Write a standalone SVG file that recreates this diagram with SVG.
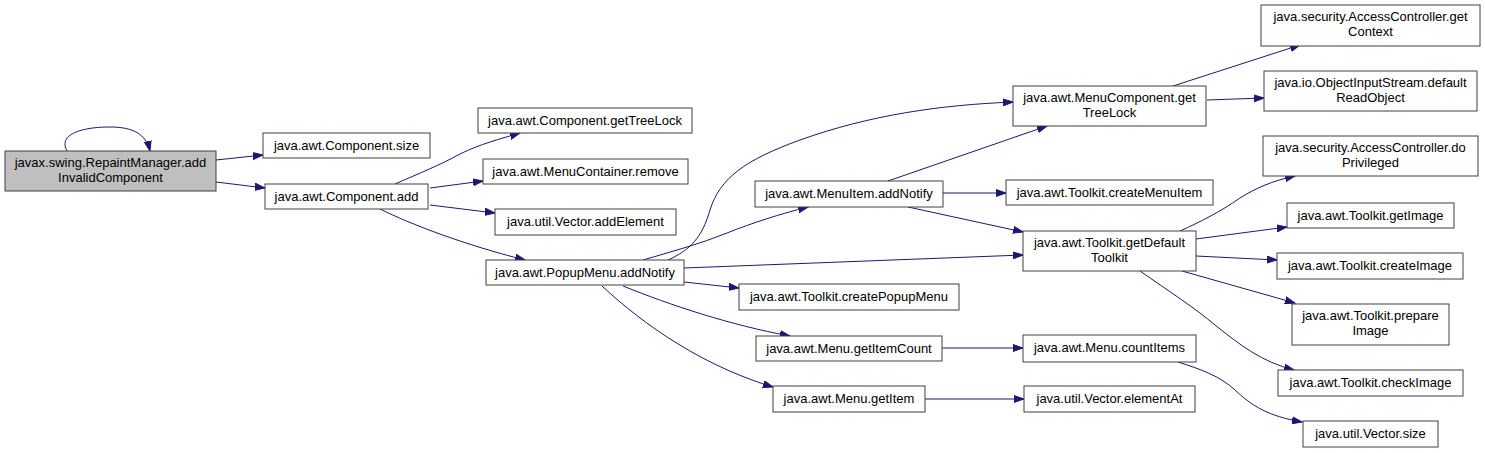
<svg xmlns="http://www.w3.org/2000/svg" width="1485" height="453" viewBox="0 0 1485 453">
<style>
.n rect{fill:#fff;stroke:#404040;stroke-width:1}
.n text{font-family:"Liberation Sans",Arial,sans-serif;font-size:13px;fill:#000;text-anchor:middle}
#edges path{fill:none;stroke:#191970;stroke-width:1;marker-end:url(#ah)}
</style>
<defs>
<marker id="ah" markerUnits="userSpaceOnUse" markerWidth="11" markerHeight="8" refX="10" refY="4" orient="auto">
<path d="M0,0.5 L10,4 L0,7.5 z" fill="#191970" stroke="#191970" stroke-width="1"/>
</marker>
</defs>
<rect width="1485" height="453" fill="#fff"/>
<g id="edges">
<path d="M67,151 C58,135 80,127 110,127 C133,127 146,134 150,151"/>
<path d="M216,160 L263,155"/>
<path d="M216,182 L265,188"/>
<path d="M395,184 C420,173 440,165 460,154 C480,144 500,139 520,133"/>
<path d="M430,188 L483,181"/>
<path d="M430,205 L495,213"/>
<path d="M380,209 C410,224 465,245 525,260"/>
<path d="M668,260 C690,250 702,238 710,210 C720,178 745,160 800,140 C870,115 940,105 1013,102"/>
<path d="M643,260 C670,252 700,244 727,233 C752,223 780,214 808,207"/>
<path d="M684,268 L1023,255"/>
<path d="M684,282 L739,288"/>
<path d="M623,286 C670,305 730,325 790,336"/>
<path d="M602,286 C630,312 690,362 773,387"/>
<path d="M888,181 L1047,126"/>
<path d="M943,193 L1006,193"/>
<path d="M908,207 L1023,232"/>
<path d="M1173,86 L1300,45"/>
<path d="M1207,100 L1264,98"/>
<path d="M1180,231 C1200,222 1220,212 1240,198 C1256,188 1272,181 1295,176"/>
<path d="M1196,239 L1287,227"/>
<path d="M1196,256 L1277,260"/>
<path d="M1182,271 L1295,303"/>
<path d="M1140,271 C1170,292 1195,308 1215,325 C1240,345 1262,362 1294,370"/>
<path d="M942,348 L1023,348"/>
<path d="M925,399 L1024,399"/>
<path d="M1178,362 C1200,369 1220,376 1235,390 C1252,406 1268,416 1302,422"/>
</g>
<g id="n0" class="n"><rect x="5" y="151" width="211" height="40" style="fill:#bfbfbf"/><text x="110.5" y="167">javax.swing.RepaintManager.add</text><text x="110.5" y="182">InvalidComponent</text></g>
<g id="n1" class="n"><rect x="263" y="133" width="167" height="25"/><text x="346.5" y="150">java.awt.Component.size</text></g>
<g id="n2" class="n"><rect x="265" y="184" width="163" height="25"/><text x="346.5" y="201">java.awt.Component.add</text></g>
<g id="n3" class="n"><rect x="478" y="108" width="214" height="25"/><text x="585" y="125">java.awt.Component.getTreeLock</text></g>
<g id="n4" class="n"><rect x="483" y="159" width="205" height="25"/><text x="585.5" y="176">java.awt.MenuContainer.remove</text></g>
<g id="n5" class="n"><rect x="495" y="209" width="181" height="26"/><text x="585.5" y="226">java.util.Vector.addElement</text></g>
<g id="n6" class="n"><rect x="486" y="260" width="198" height="25"/><text x="585" y="277">java.awt.PopupMenu.addNotify</text></g>
<g id="n7" class="n"><rect x="755" y="181" width="188" height="26"/><text x="849" y="198">java.awt.MenuItem.addNotify</text></g>
<g id="n8" class="n"><rect x="739" y="284" width="220" height="26"/><text x="849" y="301">java.awt.Toolkit.createPopupMenu</text></g>
<g id="n9" class="n"><rect x="756" y="336" width="186" height="25"/><text x="849" y="353">java.awt.Menu.getItemCount</text></g>
<g id="n10" class="n"><rect x="773" y="386" width="152" height="26"/><text x="849" y="403">java.awt.Menu.getItem</text></g>
<g id="n11" class="n"><rect x="1013" y="86" width="193" height="40"/><text x="1109.5" y="102">java.awt.MenuComponent.get</text><text x="1109.5" y="117">TreeLock</text></g>
<g id="n12" class="n"><rect x="1006" y="180" width="207" height="25"/><text x="1109.5" y="197">java.awt.Toolkit.createMenuItem</text></g>
<g id="n13" class="n"><rect x="1023" y="231" width="173" height="40"/><text x="1109.5" y="247">java.awt.Toolkit.getDefault</text><text x="1109.5" y="262">Toolkit</text></g>
<g id="n14" class="n"><rect x="1023" y="335" width="173" height="27"/><text x="1109.5" y="352">java.awt.Menu.countItems</text></g>
<g id="n15" class="n"><rect x="1024" y="386" width="171" height="26"/><text x="1109.5" y="403">java.util.Vector.elementAt</text></g>
<g id="n16" class="n"><rect x="1261" y="5" width="219" height="41"/><text x="1370.5" y="21">java.security.AccessController.get</text><text x="1370.5" y="36">Context</text></g>
<g id="n17" class="n"><rect x="1264" y="71" width="213" height="40"/><text x="1370.5" y="87">java.io.ObjectInputStream.default</text><text x="1370.5" y="102">ReadObject</text></g>
<g id="n18" class="n"><rect x="1263" y="136" width="215" height="40"/><text x="1370.5" y="152">java.security.AccessController.do</text><text x="1370.5" y="167">Privileged</text></g>
<g id="n19" class="n"><rect x="1287" y="203" width="167" height="25"/><text x="1370.5" y="220">java.awt.Toolkit.getImage</text></g>
<g id="n20" class="n"><rect x="1277" y="253" width="186" height="26"/><text x="1370" y="270">java.awt.Toolkit.createImage</text></g>
<g id="n21" class="n"><rect x="1292" y="304" width="157" height="41"/><text x="1370.5" y="320">java.awt.Toolkit.prepare</text><text x="1370.5" y="335">Image</text></g>
<g id="n22" class="n"><rect x="1278" y="370" width="185" height="26"/><text x="1370.5" y="387">java.awt.Toolkit.checkImage</text></g>
<g id="n23" class="n"><rect x="1303" y="421" width="135" height="26"/><text x="1370.5" y="438">java.util.Vector.size</text></g>
</svg>
